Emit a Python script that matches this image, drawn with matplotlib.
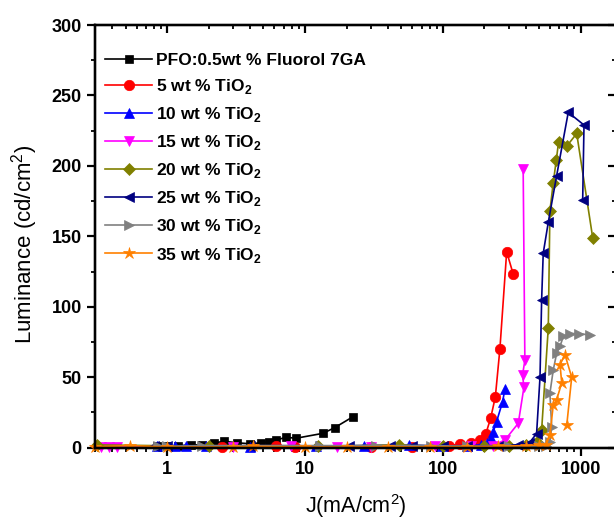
import matplotlib
matplotlib.use("Agg")
import matplotlib.pyplot as plt
from matplotlib.ticker import FixedLocator, FixedFormatter, MultipleLocator, LogLocator, NullFormatter

plt.rcParams['font.family'] = ['Liberation Sans', 'DejaVu Sans']
plt.rcParams['mathtext.fontset'] = 'custom'
plt.rcParams['mathtext.rm'] = 'Liberation Sans'
plt.rcParams['mathtext.bf'] = 'Liberation Sans:bold'

# PFO:0.5wt % Fluorol 7GA
j_pfo = [0.85, 1.0, 1.2, 1.5, 1.8, 2.2, 2.6, 3.2, 4.0, 4.8, 5.5, 6.2, 7.3, 8.6, 13.5, 16.4, 22.3]
l_pfo = [1.0, 1.2, 1.5, 1.8, 2.2, 3.5, 4.5, 3.5, 2.8, 3.5, 4.0, 5.5, 7.4, 6.7, 10.2, 14.2, 22.0]

# 5 wt % TiO2
j_5 = [2.5, 6.2, 8.5, 30, 60, 110, 133, 160, 185, 205, 222, 240, 259, 290, 324]
l_5 = [0.5, 1.0, 0.8, 0.6, 0.8, 1.5, 2.5, 3.0, 5.5, 10.0, 21.0, 36.0, 70.0, 139.0, 123.0]

# 10 wt % TiO2
j_10 = [0.85, 1.15, 1.36, 1.9, 4.0, 12, 27, 57, 98, 150, 190, 210, 225, 232, 245, 271, 282]
l_10 = [1.5, 1.0, 1.5, 1.0, 0.8, 1.2, 1.5, 1.8, 1.2, 1.5, 2.0, 3.0, 6.7, 11.4, 18.5, 32.6, 42.0]

# 15 wt % TiO2
j_15 = [0.33, 0.38, 0.43, 3.0, 7.9, 17, 30, 87, 160, 230, 282, 352, 387, 378, 393, 382]
l_15 = [0.5, 0.5, 0.5, 0.8, 1.0, 0.5, 0.8, 1.0, 1.2, 1.5, 5.5, 17.3, 43.0, 51.6, 62.0, 198.0]

# 20 wt % TiO2
j_20 = [0.31, 2.0, 12.5, 48, 100, 200, 300, 400, 480, 520, 581, 597, 631, 664, 690, 791, 934, 1220]
l_20 = [2.0, 1.0, 1.0, 2.0, 1.0, 1.0, 1.5, 2.0, 4.0, 12.6, 85.0, 168.0, 188.0, 204.0, 217.0, 214.0, 223.0, 149.0]

# 25 wt % TiO2
j_25 = [0.81, 1.0, 4.0, 20.9, 41, 60, 100, 150, 250, 350, 420, 478, 506, 520, 534, 581, 668, 811, 1055, 1032]
l_25 = [1.5, 1.0, 1.5, 1.2, 1.0, 1.5, 1.2, 1.0, 1.5, 2.0, 3.0, 10.0, 50.0, 105.0, 138.0, 160.0, 193.0, 238.0, 229.0, 176.0]

# 30 wt % TiO2
j_30 = [0.86, 1.0, 1.8, 12.8, 32.6, 82, 150, 300, 500, 560, 597, 615, 597, 631, 668, 707, 747, 835, 963, 1163]
l_30 = [1.5, 1.0, 1.5, 1.5, 1.5, 1.5, 1.0, 1.0, 1.0, 1.0, 4.3, 15.0, 38.6, 55.0, 67.0, 72.0, 79.0, 81.0, 81.0, 80.0]

# 35 wt % TiO2
j_35 = [0.3, 0.54, 1.0, 3.0, 4.2, 10, 20, 40, 80, 150, 250, 400, 500, 560, 597, 631, 668, 727, 707, 768, 859, 791]
l_35 = [0.5, 1.5, 0.5, 0.5, 1.0, 0.5, 0.5, 0.8, 0.5, 0.8, 1.0, 1.5, 2.0, 2.0, 9.0, 30.0, 34.0, 46.0, 59.0, 66.0, 50.0, 16.0]

labels = ["PFO:0.5wt % Fluorol 7GA",
          r"5 wt % TiO$_\mathbf{2}$",
          r"10 wt % TiO$_\mathbf{2}$",
          r"15 wt % TiO$_\mathbf{2}$",
          r"20 wt % TiO$_\mathbf{2}$",
          r"25 wt % TiO$_\mathbf{2}$",
          r"30 wt % TiO$_\mathbf{2}$",
          r"35 wt % TiO$_\mathbf{2}$"]
colors = ['#000000', '#FF0000', '#0000FF', '#FF00FF', '#808000', '#000080', '#808080', '#FF8000']
markers = ['s', 'o', '^', 'v', 'D', '<', '>', '*']
sizes = [6, 7.5, 7.5, 7.5, 6.5, 7.5, 7.5, 9]

xs = [j_pfo, j_5, j_10, j_15, j_20, j_25, j_30, j_35]
ys = [l_pfo, l_5, l_10, l_15, l_20, l_25, l_30, l_35]

fig = plt.figure(figsize=(6.14, 5.20), dpi=100)
ax = fig.add_axes([95 / 614, 72.3 / 520, 521 / 614, 422.7 / 520])

for x, y, c, m, s, lab in zip(xs, ys, colors, markers, sizes, labels):
    ax.plot(x, y, color=c, marker=m, markersize=s, linewidth=1.2,
            markeredgewidth=0.5, label=lab, clip_on=False)

ax.set_xscale('log')
ax.set_xlim(0.3, 1800)
ax.set_ylim(0, 300)

ax.xaxis.set_major_locator(FixedLocator([1, 10, 100, 1000]))
ax.xaxis.set_major_formatter(FixedFormatter(['1', '10', '100', '1000']))
ax.xaxis.set_minor_locator(LogLocator(base=10, subs=range(2, 10), numticks=20))
ax.xaxis.set_minor_formatter(NullFormatter())
ax.yaxis.set_major_locator(MultipleLocator(50))
ax.yaxis.set_minor_locator(MultipleLocator(25))

for sp in ax.spines.values():
    sp.set_linewidth(1.6)

ax.tick_params(axis='both', which='major', direction='out', length=5.5, width=1.6,
               labelsize=13, pad=4)
ax.tick_params(axis='both', which='minor', direction='out', length=3, width=1.3)
for lbl in ax.get_xticklabels() + ax.get_yticklabels():
    lbl.set_fontweight('bold')

# inward ticks on the top and right edges
top = ax.twiny()
top.set_xscale('log')
top.set_xlim(ax.get_xlim())
top.xaxis.set_major_locator(FixedLocator([1, 10, 100, 1000]))
top.xaxis.set_minor_locator(LogLocator(base=10, subs=range(2, 10), numticks=20))
top.xaxis.set_minor_formatter(NullFormatter())
top.tick_params(axis='x', which='major', direction='in', length=5.5, width=1.6, labeltop=False)
top.tick_params(axis='x', which='minor', direction='in', length=3, width=1.3)
right = ax.twinx()
right.set_ylim(ax.get_ylim())
right.yaxis.set_major_locator(MultipleLocator(50))
right.yaxis.set_minor_locator(MultipleLocator(25))
right.tick_params(axis='y', which='major', direction='in', length=5.5, width=1.6, labelright=False)
right.tick_params(axis='y', which='minor', direction='in', length=3, width=1.3)
for a in (top, right):
    for sp in a.spines.values():
        sp.set_linewidth(1.6)

ax.set_xlabel("J(mA/cm$^2$)", fontsize=15.5)
ax.set_ylabel("Luminance (cd/cm$^2$)", fontsize=16)
ax.xaxis.set_label_coords(0.5, -0.104)
ax.yaxis.set_label_coords(-0.105, 0.482)

leg = ax.legend(loc='upper left', bbox_to_anchor=(0.0, 0.958), frameon=False,
                prop={'weight': 'bold', 'size': 12.5}, handlelength=2.7,
                handletextpad=0.2, labelspacing=0.52, borderpad=0.3, borderaxespad=0.3)

fig.savefig("out.png", dpi=100)
